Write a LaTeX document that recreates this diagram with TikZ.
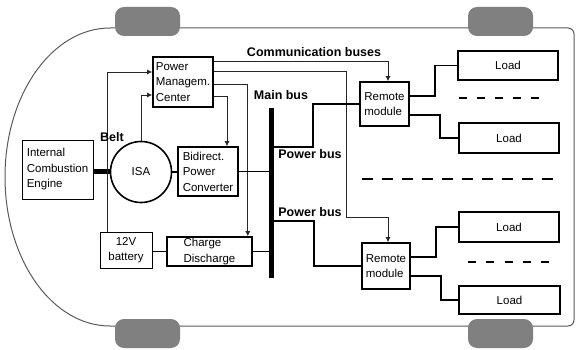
\documentclass[tikz,border=0pt]{standalone}
\usepackage{fontspec}
\setmainfont{Liberation Sans}
\usetikzlibrary{arrows.meta,calc}
\tikzset{
  blk/.style={draw, line width=1.6pt, align=left, inner sep=0pt, font=\fontsize{11.5}{15.5}\selectfont},
  thinblk/.style={blk, line width=0.8pt},
  ctl/.style={-{Latex[length=5pt,width=5pt]}, line width=0.8pt, black!85},
  pwr/.style={line width=1.4pt},
  busln/.style={line width=5pt},
  dashln/.style={line width=2.6pt},
  lbl/.style={font=\fontsize{12.5}{14}\selectfont\bfseries, inner sep=0pt},
  wheel/.style={fill=gray, rounded corners=9pt},
}

\begin{document}
\begin{tikzpicture}[x=1pt,y=-1pt]
    \useasboundingbox (0,0) rectangle (576,350);
    % car body and wheels
    \draw[black!65, line width=1pt, rounded corners=6pt]
      (110,326) -- (574,326) -- (574,28) -- (110,28);
    \draw[black!65, line width=1pt]
      (110,28) arc[start angle=270, end angle=90, x radius=105, y radius=149];
    \foreach \wx in {115,468}
      \foreach \wy in {7,319}
        \fill[wheel] (\wx,\wy) rectangle ++(65,29);
    % blocks
    \node[thinblk, minimum width=71pt, minimum height=59pt] (ice) at (57.5,169.5) {Internal\\Combustion\\Engine};
    \node[blk, circle, align=center, minimum size=61pt] (isa) at (141,172) {ISA};
    \node[blk, minimum width=60pt, minimum height=50pt] (pmc) at (183,82) {Power\\Managem.\\Center};
    \node[blk, minimum width=60pt, minimum height=49pt] (conv) at (208,171.5) {Bidirect.\\Power\\Converter};
    \node[thinblk, align=center, minimum width=52pt, minimum height=36pt] (batt) at (126,250) {12V\\battery};
    \node[blk, minimum width=85pt, minimum height=29pt] (chg) at (209.5,251.5) {Charge\\Discharge};
    \node[blk, minimum width=49pt, minimum height=44pt] (rmA) at (384.5,104) {Remote\\module};
    \node[blk, minimum width=48pt, minimum height=46pt] (rmB) at (386,266) {Remote\\module};
    \node[blk, minimum width=100pt, minimum height=29pt] (loadA) at (508,65.5) {Load};
    \node[blk, minimum width=100pt, minimum height=30pt] (loadB) at (509,138) {Load};
    \node[blk, minimum width=100pt, minimum height=30pt] (loadC) at (509,227) {Load};
    \node[blk, minimum width=101pt, minimum height=28pt] (loadD) at (509.5,300) {Load};
    % main bus
    \coordinate (busT) at (271,108);
    \coordinate (busB) at (271,278);
    \draw[busln] (busT) -- (busB);
    \draw[busln] (isa.west -| ice.east) -- (isa.west);
    % communication lines
    \coordinate (tap) at (107,72);
    \draw[ctl] (batt.north -| tap) -- (tap) -- (tap -| pmc.west);
    \draw[ctl] (isa.north) |- ($(pmc.west)+(0,13)$);
    \draw[ctl] ($(pmc.north east)+(0,5)$) -| ($(rmA.north)+(3.5,0)$);
    \draw[ctl] ($(pmc.north east)+(0,15)$) -| (346,217) -| ($(rmB.north)+(2,0)$);
    \draw[ctl] ($(pmc.east)+(0,2)$) -| ($(chg.north east)+(-5,0)$);
    \draw[ctl] ($(pmc.south east)+(0,-11)$) -| ($(conv.north)+(19,0)$);
    % power lines
    \draw[pwr] (isa.east) -- (isa.east -| conv.west);
    \draw[pwr] (conv.east) -- (conv.east -| busT);
    \draw[pwr] (chg.west -| batt.east) -- (chg.west);
    \draw[pwr] (chg.east) -- (chg.east -| busT);
    \coordinate (pbA) at (271,147);
    \coordinate (pbB) at (271,221);
    \draw[pwr] (pbA) -- ++(42,0) |- (rmA.west);
    \draw[pwr] (pbB) -- ++(43,0) |- (rmB.west);
    \draw[pwr] ($(rmA.east)+(0,-8)$) -- ++(25,0) |- (loadA.west);
    \draw[pwr] ($(rmA.east)+(0,11)$) -- ++(30,0) |- (loadB.west);
    \draw[pwr] ($(rmB.east)+(0,-9)$) -- ++(25,0) |- (loadC.west);
    \draw[pwr] ($(rmB.east)+(0,10)$) -- ++(30,0) |- (loadD.west);
    % more loads
    \draw[dashln, dash pattern=on 8pt off 10pt] (459,98) -- (541,98);
    \draw[dashln, dash pattern=on 11pt off 9pt] (362,179) -- (553,179);
    \draw[dashln, dash pattern=on 8pt off 10.25pt] (468,262) -- (549,262);
    % labels
    \node[lbl] (belt) at (112,137) {Belt};
    \node[lbl] (comm) at (314,52) {Communication buses};
    \node[lbl] (mainbus) at (281,95) {Main bus};
    \node[lbl] (pwrA) at (310,154) {Power bus};
    \node[lbl] (pwrB) at (310,212) {Power bus};
\end{tikzpicture}
\end{document}
